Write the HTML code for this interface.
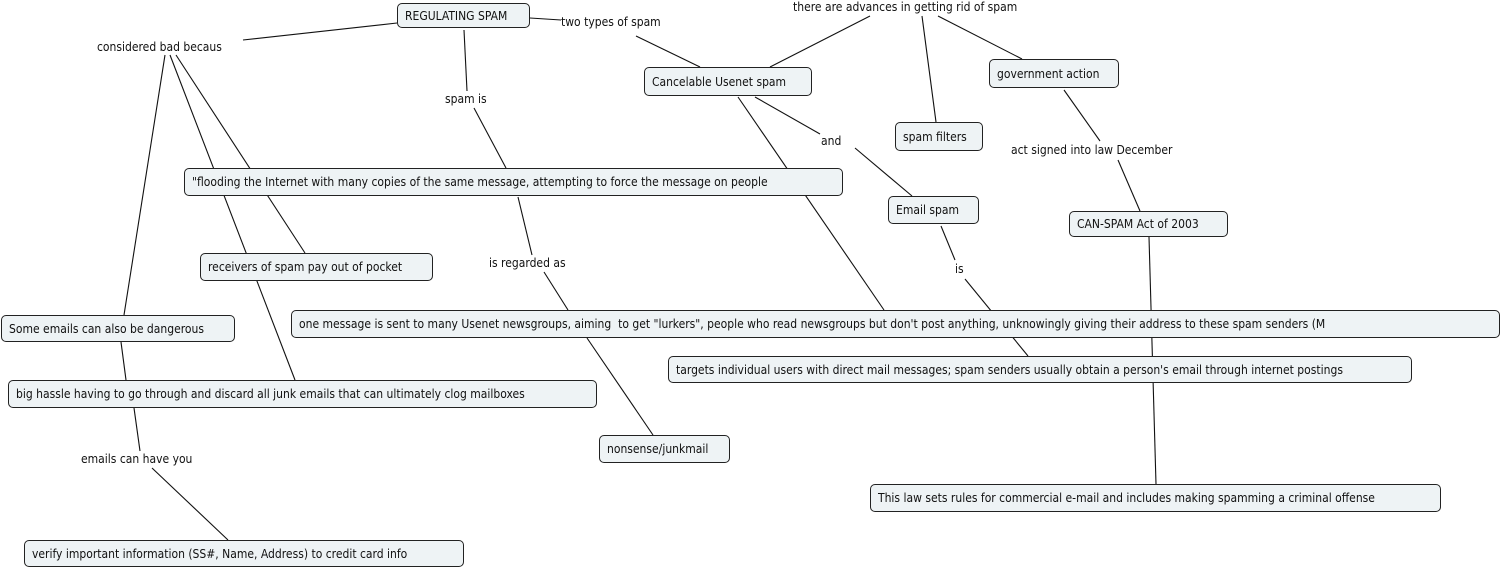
<!DOCTYPE html>
<html><head><meta charset="utf-8"><style>
body{margin:0;width:1501px;height:571px;background:#fff;position:relative;overflow:hidden;font-family:"DejaVu Sans Condensed","Liberation Sans",sans-serif;font-size:12px;color:#111}
.b{position:absolute;box-sizing:border-box;border:1px solid #222;border-radius:5px;background:#eef3f5;white-space:nowrap;overflow:hidden;padding-left:7px;display:flex;align-items:center}
.l{position:absolute;white-space:nowrap;background:#fff;line-height:14px;overflow:hidden}
svg{position:absolute;left:0;top:0}
</style></head><body>
<svg width="1501" height="571" stroke="#111" stroke-width="1.1" fill="none">
<line x1="397" y1="23" x2="243" y2="40"/>
<line x1="530" y1="18" x2="561" y2="20"/>
<line x1="636" y1="36" x2="700" y2="67"/>
<line x1="870" y1="16" x2="770" y2="67"/>
<line x1="922" y1="16" x2="936" y2="122"/>
<line x1="938" y1="16" x2="1022" y2="59"/>
<line x1="755" y1="97" x2="820" y2="134"/>
<line x1="855" y1="148" x2="912" y2="196"/>
<line x1="738" y1="97" x2="884" y2="310"/>
<line x1="1064" y1="90" x2="1100" y2="141"/>
<line x1="1118" y1="160" x2="1140" y2="211"/>
<line x1="1149" y1="237" x2="1156" y2="484"/>
<line x1="941" y1="226" x2="955" y2="260"/>
<line x1="965" y1="279" x2="1028" y2="356"/>
<line x1="464" y1="30" x2="467" y2="91"/>
<line x1="474" y1="108" x2="506" y2="168"/>
<line x1="518" y1="197" x2="532" y2="255"/>
<line x1="544" y1="272" x2="568" y2="310"/>
<line x1="587" y1="338" x2="653" y2="435"/>
<line x1="176" y1="55" x2="305" y2="253"/>
<line x1="170" y1="55" x2="295" y2="380"/>
<line x1="165" y1="55" x2="124" y2="315"/>
<line x1="121" y1="342" x2="126" y2="380"/>
<line x1="134" y1="408" x2="140" y2="451"/>
<line x1="152" y1="468" x2="228" y2="540"/>
</svg>
<div class="l" style="left:97px;top:40px">considered bad becaus</div>
<div class="l" style="left:561px;top:15px;width:115px">two types of spam</div>
<div class="l" style="left:793px;top:0px;width:257px">there are advances in getting rid of spam</div>
<div class="l" style="left:445px;top:92px">spam is</div>
<div class="l" style="left:821px;top:134px">and</div>
<div class="l" style="left:1011px;top:143px;width:185px">act signed into law December</div>
<div class="l" style="left:489px;top:256px">is regarded as</div>
<div class="l" style="left:955px;top:262px">is</div>
<div class="l" style="left:81px;top:452px;width:125px">emails can have you</div>

<div class="b" style="left:397px;top:3px;width:133px;height:25px">REGULATING SPAM</div>
<div class="b" style="left:644px;top:67px;width:168px;height:29px">Cancelable Usenet spam</div>
<div class="b" style="left:989px;top:59px;width:130px;height:29px">government action</div>
<div class="b" style="left:895px;top:122px;width:88px;height:29px">spam filters</div>
<div class="b" style="left:888px;top:196px;width:91px;height:28px">Email spam</div>
<div class="b" style="left:1069px;top:211px;width:159px;height:26px">CAN-SPAM Act of 2003</div>
<div class="b" style="left:184px;top:168px;width:659px;height:28px">"flooding the Internet with many copies of the same message, attempting to force the message on people</div>
<div class="b" style="left:200px;top:253px;width:233px;height:28px">receivers of spam pay out of pocket</div>
<div class="b" style="left:1px;top:315px;width:234px;height:27px">Some emails can also be dangerous</div>
<div class="b" style="left:291px;top:310px;width:1209px;height:28px">one message is sent to many Usenet newsgroups, aiming&nbsp; to get "lurkers", people who read newsgroups but don't post anything, unknowingly giving their address to these spam senders (M</div>
<div class="b" style="left:668px;top:356px;width:744px;height:27px">targets individual users with direct mail messages; spam senders usually obtain a person's email through internet postings</div>
<div class="b" style="left:8px;top:380px;width:589px;height:28px">big hassle having to go through and discard all junk emails that can ultimately clog mailboxes</div>
<div class="b" style="left:599px;top:435px;width:131px;height:28px">nonsense/junkmail</div>
<div class="b" style="left:870px;top:484px;width:571px;height:28px">This law sets rules for commercial e-mail and includes making spamming a criminal offense</div>
<div class="b" style="left:24px;top:540px;width:440px;height:27px">verify important information (SS#, Name, Address) to credit card info</div>
</body></html>
